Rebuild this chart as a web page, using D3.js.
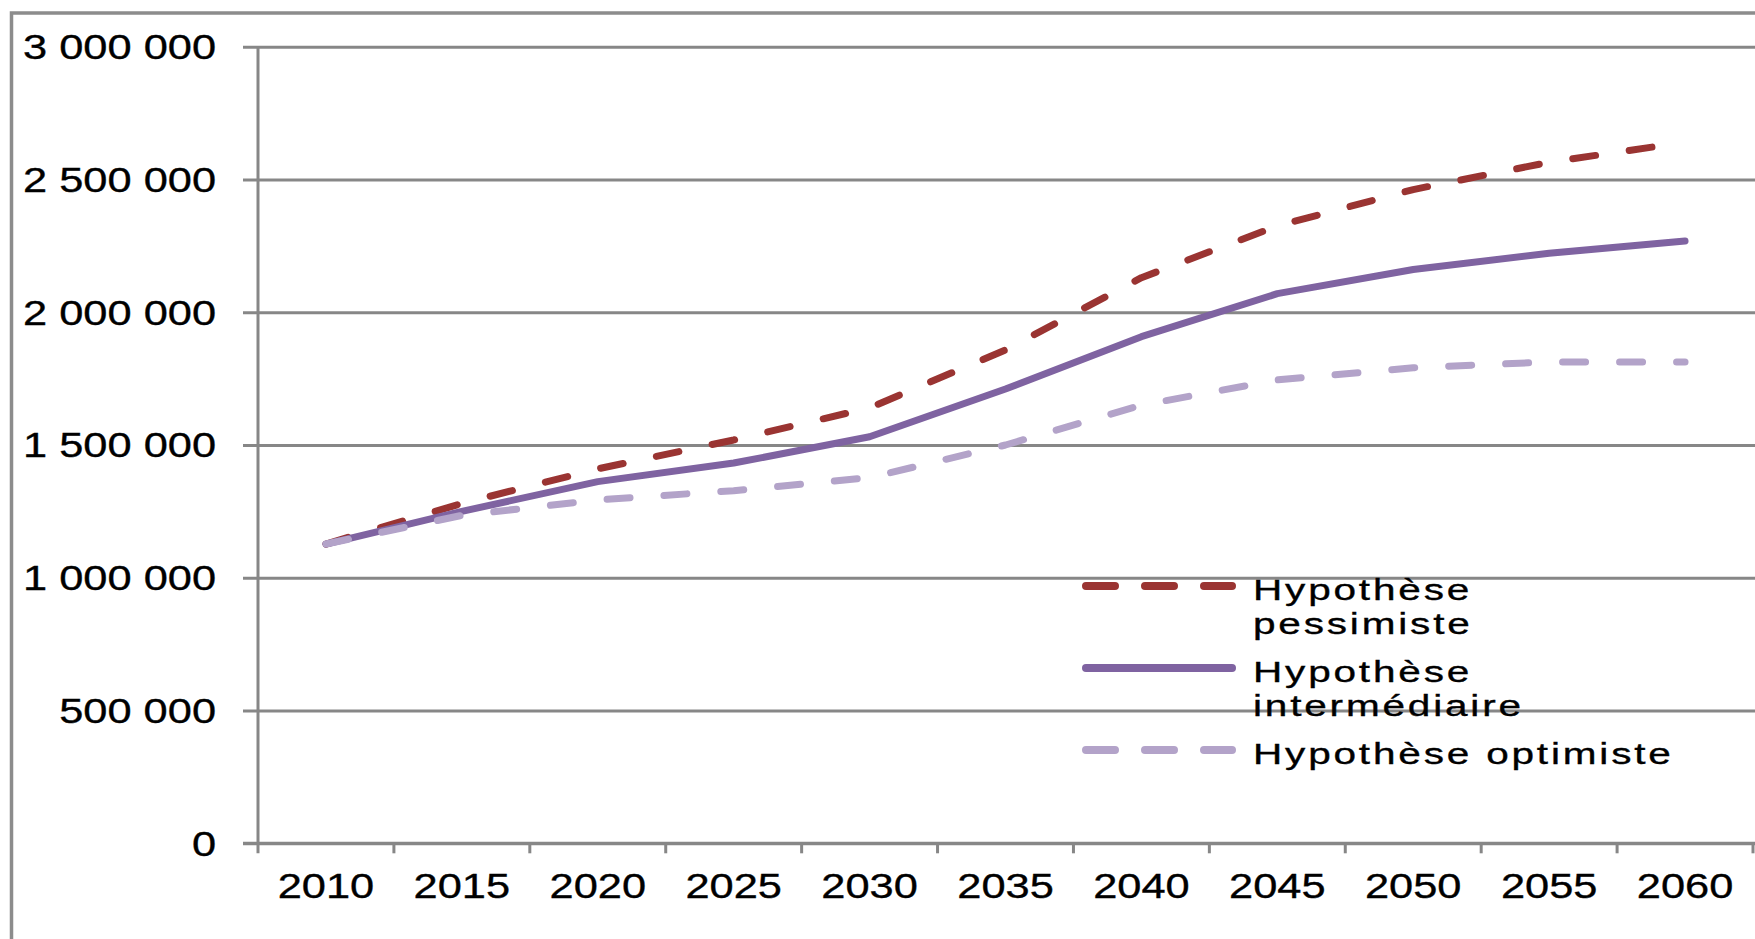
<!DOCTYPE html>
<html>
<head>
<meta charset="utf-8">
<script src="https://cdn.jsdelivr.net/npm/d3@7"></script>
<style>
  html, body { margin: 0; padding: 0; background: #fff; }
  svg { display: block; }
  text { font-family: "Liberation Sans", Arial, sans-serif; fill: #000; stroke: #000; stroke-width: 0.35px; }
</style>
</head>
<body>
<div class="container"></div>
<script>
// values
const years = ["2010", "2015", "2020", "2025", "2030", "2035", "2040", "2045", "2050", "2055", "2060"];
const pessimiste = [1127000, 1280000, 1410000, 1519000, 1640000, 1858000, 2130000, 2325000, 2462000, 2565000, 2640000];
const intermediaire = [1127000, 1250000, 1362000, 1432000, 1531000, 1711000, 1908000, 2070000, 2161000, 2222000, 2268000];
const optimiste = [1127000, 1235000, 1293000, 1328000, 1377000, 1500000, 1650000, 1745000, 1791000, 1813000, 1813000];
const yTicks = [0, 500000, 1000000, 1500000, 2000000, 2500000, 3000000];

const series = [
	{ name: ["Hypothèse", "pessimiste"], values: pessimiste, color: "#9a3432", dashed: true },
	{ name: ["Hypothèse", "intermédiaire"], values: intermediaire, color: "#7f63a1", dashed: false },
	{ name: ["Hypothèse optimiste"], values: optimiste, color: "#b3a3c9", dashed: true }
];

const width = 1755, height = 939;
const margin = { top: 46.7, right: 2, bottom: 95.7, left: 258 };
const stretch = 1.24;
const gridColor = "#878787";

const formatTick = (v) => d3.format(",")(v).replace(/,/g, " ");

const svg = d3.select(".container")
	.append("svg")
		.attr("width", width)
		.attr("height", height);

// outer chart frame (cropped on the right and bottom)
svg.append("rect")
	.attr("x", 11.5)
	.attr("y", 13)
	.attr("width", width + 50)
	.attr("height", height + 50)
	.attr("fill", "none")
	.attr("stroke", "#8c8c8c")
	.attr("stroke-width", 3.5);

const x = d3.scaleBand()
	.domain(years)
	.range([margin.left, width - margin.right])
	.padding(0);

const y = d3.scaleLinear()
	.domain([0, 3000000])
	.range([height - margin.bottom, margin.top]);

// horizontal gridlines, running a bit left of the axis as tick marks
const yAxis = svg.append("g")
	.attr("transform", `translate(${ margin.left }, 0)`)
	.call(d3.axisLeft(y)
		.tickValues(yTicks)
		.tickFormat(formatTick)
		.tickSize(15)
		.tickSizeOuter(0));

yAxis.select(".domain").remove();
yAxis.selectAll(".tick line")
	.attr("x1", width - margin.left)
	.attr("x2", -15)
	.attr("stroke", gridColor)
	.attr("stroke-width", 3);
yAxis.selectAll(".tick text")
	.attr("x", -42 / stretch)
	.attr("dy", "0.34em")
	.attr("transform", `scale(${ stretch }, 1)`)
	.style("font-size", "35px");

// category axis with ticks between categories
const xAxis = svg.append("g")
	.attr("transform", `translate(0, ${ y(0) })`)
	.call(d3.axisBottom(x).tickSize(0).tickSizeOuter(0));

xAxis.select(".domain").remove();
xAxis.selectAll(".tick text")
	.attr("y", 55)
	.attr("dy", 0)
	.attr("transform", `scale(${ stretch }, 1)`)
	.style("font-size", "35px");

xAxis.selectAll("line.between")
	.data(years)
		.enter()
	.append("line")
		.attr("class", "between")
		.attr("x1", (d) => x(d) + x.bandwidth())
		.attr("x2", (d) => x(d) + x.bandwidth())
		.attr("y1", 0)
		.attr("y2", 10)
		.attr("stroke", gridColor)
		.attr("stroke-width", 3);

xAxis.append("line")
	.attr("x1", margin.left - 15)
	.attr("x2", width)
	.attr("stroke", gridColor)
	.attr("stroke-width", 3);

// vertical axis line
svg.append("line")
	.attr("x1", margin.left)
	.attr("x2", margin.left)
	.attr("y1", margin.top)
	.attr("y2", y(0) + 10)
	.attr("stroke", gridColor)
	.attr("stroke-width", 3);

const line = d3.line()
	.x((d, i) => x(years[i]) + x.bandwidth() / 2)
	.y((d) => y(d));

svg.selectAll("path.serie")
	.data(series)
		.enter()
	.append("path")
		.attr("class", "serie")
		.attr("d", (s) => line(s.values))
		.attr("fill", "none")
		.attr("stroke", (s) => s.color)
		.attr("stroke-width", 7)
		.attr("stroke-linecap", "round")
		.attr("stroke-linejoin", "round")
		.attr("stroke-dasharray", (s) => s.dashed ? "23,34" : null);

// legend
const legendTop = [586, 668, 750];

const legend = svg.selectAll("g.legend")
	.data(series)
		.enter()
	.append("g")
		.attr("class", "legend")
		.attr("transform", (s, i) => `translate(1082, ${ legendTop[i] })`);

legend.append("line")
	.attr("x1", 4)
	.attr("x2", 150)
	.attr("stroke", (s) => s.color)
	.attr("stroke-width", 8)
	.attr("stroke-linecap", "round")
	.attr("stroke-dasharray", (s) => s.dashed ? "29,30" : null);

legend.append("text")
	.attr("transform", `translate(171, 14) scale(1.35, 1)`)
	.style("font-size", "30px")
	.style("letter-spacing", "2.1px")
	.selectAll("tspan")
	.data((s) => s.name)
		.enter()
	.append("tspan")
		.attr("x", 0)
		.attr("y", (d, i) => i * 34)
		.text((d) => d);
</script>
</body>
</html>
